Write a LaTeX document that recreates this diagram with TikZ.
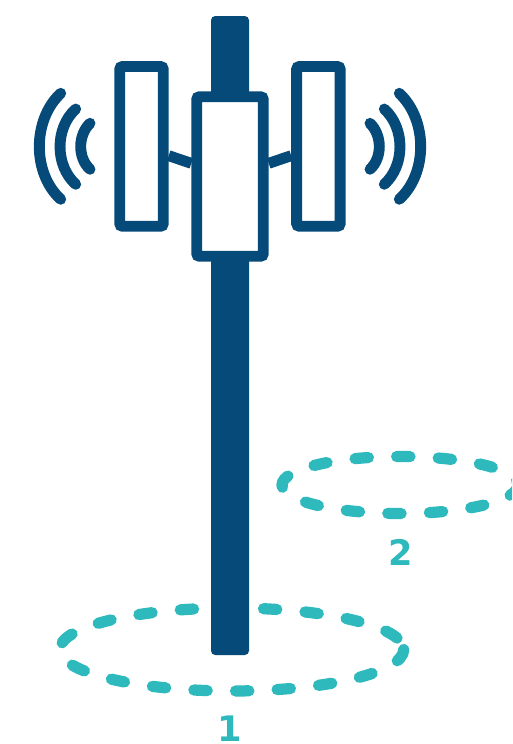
\documentclass[tikz,border=0pt]{standalone}
\usepackage{fontspec}
\setsansfont{DejaVu Sans}
\usetikzlibrary{calc,positioning}
\definecolor{mastblue}{HTML}{054A78}
\definecolor{zoneteal}{HTML}{2EB9BD}
\tikzset{
  mast/.style={fill=mastblue,rounded corners=2.4pt},
  antbox/.style={draw=mastblue,line width=6.2pt,fill=white,rounded corners=1.6pt,inner sep=0pt},
  link/.style={draw=mastblue,line width=6.2pt},
  wave/.style={draw=mastblue,line width=6.2pt,line cap=round},
  zone/.style={draw=zoneteal,line width=6.4pt,line cap=round,dash pattern=on 7.6pt off 16.1pt},
  zonelabel/.style={text=zoneteal,font=\sffamily\bfseries\fontsize{20}{20}\selectfont,inner sep=0pt}
}
\begin{document}
\begin{tikzpicture}[x=0.02cm,y=-0.02cm]
  \useasboundingbox (0,0) rectangle (512,744);
  \clip (0,0) rectangle (512,744);
  \draw[zone] (231.7,649.5) ellipse [x radius=172,y radius=41.5];
  \draw[zone] (400,485) ellipse [x radius=118,y radius=28.5];
  \fill[mast] (211,16) rectangle (249,655);
  \node[antbox,minimum width=1.332cm,minimum height=3.192cm] (mainbox) at (230,176.5) {};
  \node[antbox,minimum width=0.87cm,minimum height=3.196cm] (panelL) at (141.5,146.4) {};
  \node[antbox,minimum width=0.87cm,minimum height=3.196cm] (panelR) at (318.4,146.4) {};
  \draw[link] ($(panelL.east)+(0,9.3)$) -- ($(mainbox.west)+(0,-13.2)$);
  \draw[link] ($(panelR.west)+(0,9.3)$) -- ($(mainbox.east)+(0,-13.2)$);
  \foreach \sgn in {-1,1}{
    \draw[wave] ({230+\sgn*169.3},93.3) .. controls ({230+\sgn*197.8},120) and ({230+\sgn*197.8},173.3) .. ({230+\sgn*169.3},199.3);
    \draw[wave] ({230+\sgn*154.3},109) .. controls ({230+\sgn*175.2},128) and ({230+\sgn*175.2},165.4) .. ({230+\sgn*154.3},184.3);
    \draw[wave] ({230+\sgn*140},123.3) .. controls ({230+\sgn*152.4},135.3) and ({230+\sgn*152.4},158) .. ({230+\sgn*140},169.3);
  }
  \node[zonelabel] (labelA) at (230,729) {1};
  \node[zonelabel] (labelB) at (401,552) {2};
\end{tikzpicture}
\end{document}
